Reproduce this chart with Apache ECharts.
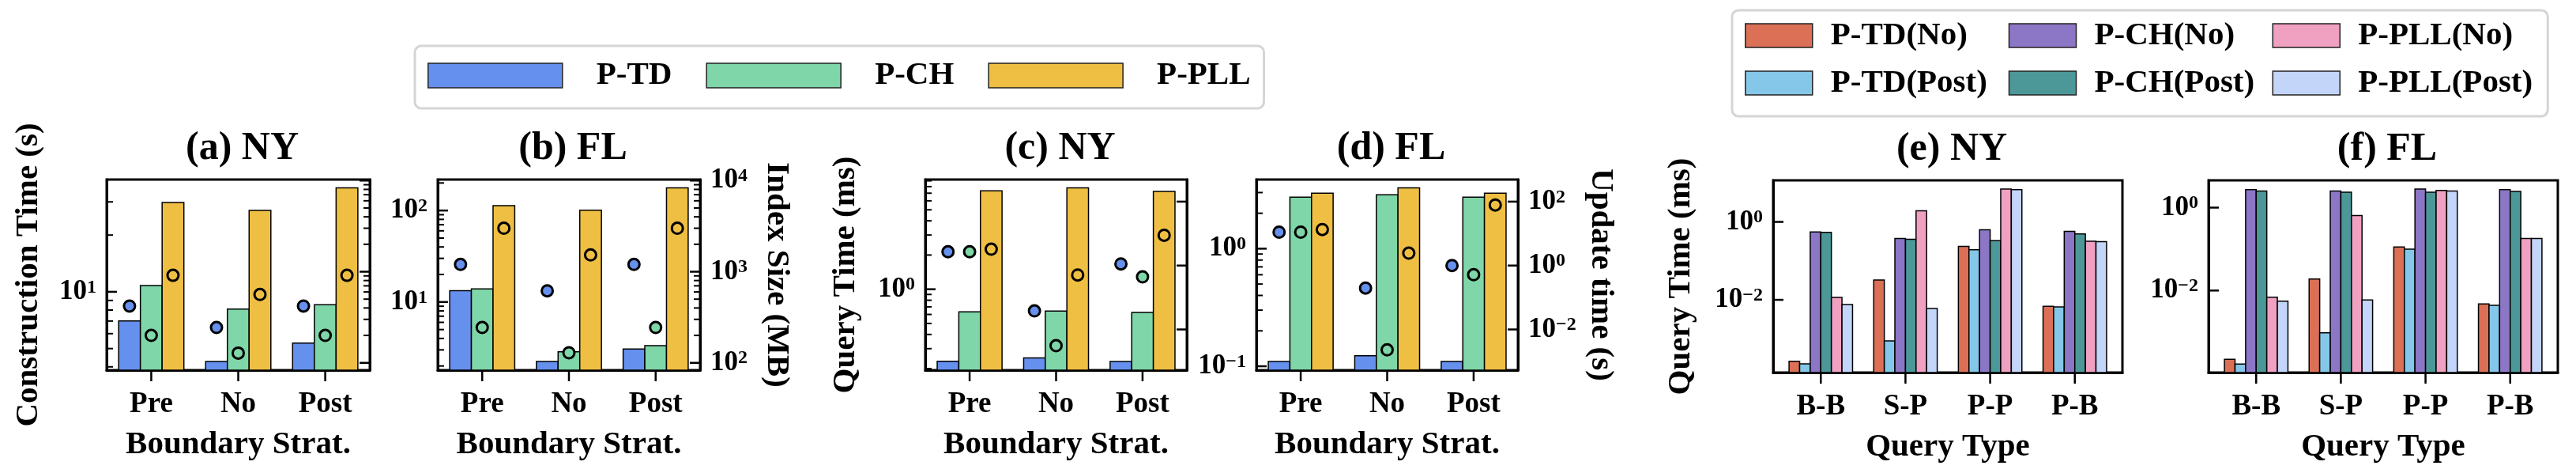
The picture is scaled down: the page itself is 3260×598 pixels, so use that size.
<!DOCTYPE html>
<html><head><meta charset="utf-8">
<script src="https://cdn.jsdelivr.net/npm/echarts@6/dist/echarts.min.js"></script>
<style>html,body{margin:0;padding:0;background:#fff}#c{width:3260px;height:598px}</style>
</head><body><div id="c"></div>
<script>
// ---------------- data ----------------
const strategies = ['Pre', 'No', 'Post'];
const queryTypes = ['B-B', 'S-P', 'P-P', 'P-B'];
const methods = ['P-TD', 'P-CH', 'P-PLL'];
const variants = ['P-TD(No)', 'P-TD(Post)', 'P-CH(No)', 'P-CH(Post)', 'P-PLL(No)', 'P-PLL(Post)'];
const titles = ['(a) NY', '(b) FL', '(c) NY', '(d) FL', '(e) NY', '(f) FL'];

// (a) NY: construction time (s) bars, index size (MB) circles
const nyBuildTD = [7.0, 4.27, 5.35];
const nyBuildCH = [10.8, 8.1, 8.55];
const nyBuildPLL = [29.8, 27.0, 35.6];
const nySizeTD = [420, 244, 420];
const nySizeCH = [200, 128, 200];
const nySizePLL = [912, 562, 912];
// (b) FL
const flBuildTD = [13.3, 2.24, 3.06];
const flBuildCH = [13.9, 2.86, 3.34];
const flBuildPLL = [113, 101, 177];
const flSizeTD = [1202, 617, 1202];
const flSizeCH = [244, 129, 244];
const flSizePLL = [3000, 1528, 3000];
// (c) NY: query time (ms) bars, update time (s) circles
const nyQueryTD = [0.232, 0.249, 0.231];
const nyQueryCH = [0.633, 0.643, 0.626];
const nyQueryPLL = [7.34, 7.79, 7.26];
const nyUpdTD = [2.69, 0.038, 1.12];
const nyUpdCH = [2.69, 0.0031, 0.443];
const nyUpdPLL = [3.24, 0.506, 8.87];
// (d) FL
const flQueryTD = [0.11, 0.123, 0.11];
const flQueryCH = [2.74, 2.87, 2.74];
const flQueryPLL = [2.96, 3.29, 2.96];
const flUpdTD = [11.1, 0.197, 1.0];
const flUpdCH = [11.1, 0.0023, 0.517];
const flUpdPLL = [13.4, 2.44, 78.3];
// (e) NY query time by query type (ms)
const nyTDNo = [2.65e-4, 0.0324, 0.234, 0.0068];
const nyTDPost = [2.27e-4, 8.8e-4, 0.192, 0.0066];
const nyCHNo = [0.554, 0.374, 0.626, 0.57];
const nyCHPost = [0.537, 0.357, 0.331, 0.489];
const nyPLLNo = [0.01156, 1.93, 6.94, 0.32];
const nyPLLPost = [0.0076, 0.006, 6.71, 0.31];
// (f) FL
const flTDNo = [2.2e-4, 0.019, 0.112, 0.00473];
const flTDPost = [1.69e-4, 9.5e-4, 0.1, 0.0044];
const flCHNo = [2.72, 2.52, 2.8, 2.72];
const flCHPost = [2.52, 2.35, 2.35, 2.45];
const flPLLNo = [0.0069, 0.644, 2.6, 0.18];
const flPLLPost = [0.00554, 0.0059, 2.52, 0.18];

// tick values (log axes)
const ticksBuildNY = [10];
const minorBuildNY = [4, 5, 6, 7, 8, 9, 20, 30];
const ticksBuildFL = [10, 100];
const minorBuildFL = [2, 3, 4, 5, 6, 7, 8, 9, 20, 30, 40, 50, 60, 70, 80, 90, 200];
const ticksSize = [100, 1000, 10000];
const minorSize = [200, 300, 400, 500, 600, 700, 800, 900, 2000, 3000, 4000, 5000, 6000, 7000, 8000, 9000];
const ticksQueryNY = [1];
const minorQueryNY = [0.2, 0.3, 0.4, 0.5, 0.6, 0.7, 0.8, 0.9, 2, 3, 4, 5, 6, 7, 8, 9];
const ticksQueryFL = [0.1, 1];
const minorQueryFL = [0.2, 0.3, 0.4, 0.5, 0.6, 0.7, 0.8, 0.9, 2, 3];
const ticksUpdate = [0.01, 1, 100];
const ticksQT = [0.01, 1];

// ---------------- style ----------------
const FONT = 'Liberation Serif';
const COL3 = {'P-TD': '#6690ee', 'P-CH': '#7fd6a8', 'P-PLL': '#efbf44'};
const COL6 = {'P-TD(No)': '#db7057', 'P-TD(Post)': '#85c7e8', 'P-CH(No)': '#8c76c6',
              'P-CH(Post)': '#4c9898', 'P-PLL(No)': '#f0a0c0', 'P-PLL(Post)': '#c3d5f8'};

const option = {animation: false, backgroundColor: '#fff',
  textStyle: {fontFamily: FONT, fontWeight: 'bold', color: '#000'},
  title: [], grid: [], xAxis: [], yAxis: [], legend: [], series: []};

function supLabel(v) {
  const e = Math.round(Math.log10(v));
  return '{b|10}{s|' + (e < 0 ? '\u2212' + (-e) : String(e)) + '}';
}
const richLab = {
  b: {fontFamily: FONT, fontWeight: 'bold', fontSize: 35, lineHeight: 35, color: '#000', padding: [12, 0, 0, 0], verticalAlign: 'bottom'},
  s: {fontFamily: FONT, fontWeight: 'bold', fontSize: 24, lineHeight: 24, color: '#000', verticalAlign: 'top'}
};
const nameStyle = {fontFamily: FONT, fontWeight: 'bold', fontSize: 41, color: '#000'};
const blackLine = {show: true, onZero: false, lineStyle: {color: '#000', width: 3}};

function addGrid(left, top, width, height, title) {
  option.grid.push({left, top, width, height, show: true, borderColor: '#000', borderWidth: 3,
    backgroundColor: 'rgba(0,0,0,0)', containLabel: false, outerBoundsMode: 'none'});
  option.title.push({text: title, left: left + width / 2, top: top - 69, textAlign: 'center',
    textStyle: {fontFamily: FONT, fontWeight: 'bold', fontSize: 50, color: '#000'}});
  return option.grid.length - 1;
}
function addX(gi, cats, xmin, xmax, name) {
  const idx = cats.map((c, i) => i);
  option.xAxis.push({type: 'value', gridIndex: gi, min: xmin, max: xmax, position: 'bottom',
    axisLine: blackLine, splitLine: {show: false}, axisTick: {show: false},
    axisLabel: {show: true, customValues: idx, formatter: v => cats[Math.round(v)], fontFamily: FONT, fontWeight: 'bold', fontSize: 37, color: '#000', margin: 25},
    name, nameLocation: 'middle', nameGap: 74, nameTextStyle: nameStyle});
  return option.xAxis.length - 1;
}
function addY(gi, min, max, position, majors, showLabels, name, nameGap) {
  const ax = {type: 'log', logBase: 10, gridIndex: gi, min, max, position,
    axisLine: blackLine, splitLine: {show: false}, axisTick: {show: false}, minorTick: {show: false}, minorSplitLine: {show: false},
    axisLabel: {show: showLabels, customValues: majors, formatter: supLabel, rich: richLab, margin: 13, fontFamily: FONT, fontWeight: 'bold', color: '#000'}};
  if (name) Object.assign(ax, {name, nameLocation: 'middle', nameGap, nameRotate: position === 'left' ? 90 : -90, nameTextStyle: nameStyle});
  option.yAxis.push(ax);
  return option.yAxis.length - 1;
}
// tick marks drawn through the axis scales (inward on y, outward on x)
function yTickSeries(xi, yi, values, side, len, lw) {
  return {type: 'custom', name: 'yticks', xAxisIndex: xi, yAxisIndex: yi, z: 6, silent: true, clip: false,
    encode: {x: 0, y: 1}, data: values.map(v => [0, v]),
    renderItem: (params, api) => {
      const p = api.coord([0, api.value(1)]);
      const cs = params.coordSys;
      const x0 = side === 'left' ? cs.x : cs.x + cs.width;
      const x1 = side === 'left' ? x0 + len : x0 - len;
      return {type: 'line', shape: {x1: x0, y1: p[1], x2: x1, y2: p[1]}, style: {stroke: '#000', lineWidth: lw, fill: null}};
    }};
}
function xTickSeries(xi, yi, n) {
  return {type: 'custom', name: 'xticks', xAxisIndex: xi, yAxisIndex: yi, z: 6, silent: true, clip: false,
    encode: {x: 0}, data: Array.from({length: n}, (d, i) => [i]),
    renderItem: (params, api) => {
      const p = api.coord([api.value(0), 1]);
      const cs = params.coordSys;
      const y0 = cs.y + cs.height;
      return {type: 'line', shape: {x1: p[0], y1: y0, x2: p[0], y2: y0 + 14}, style: {stroke: '#000', lineWidth: 2.5, fill: null}};
    }};
}
function inRange(vals, ax) { return vals.filter(v => v >= ax.min && v <= ax.max); }
function barSeries(name, xi, yi, values, slot, nSlots, w, color) {
  return {type: 'custom', name, xAxisIndex: xi, yAxisIndex: yi, z: 2, clip: true,
    itemStyle: {color, borderColor: '#000', borderWidth: 1.5},
    encode: {x: 0, y: 1},
    data: values.map((v, i) => [i, v]),
    renderItem: (params, api) => {
      const c = api.value(0) + (slot - (nSlots - 1) / 2) * w;
      const p0 = api.coord([c - w / 2, api.value(1)]);
      const p1 = api.coord([c + w / 2, api.value(1)]);
      const cs = params.coordSys;
      const yb = cs.y + cs.height;
      return {type: 'rect', shape: {x: p0[0], y: p0[1], width: p1[0] - p0[0], height: yb - p0[1]}, style: api.style()};
    }};
}
function dotSeries(name, xi, yi, values, slot, w, color) {
  return {type: 'scatter', name, xAxisIndex: xi, yAxisIndex: yi, symbol: 'circle', symbolSize: 14, z: 5, silent: true,
    itemStyle: {color, borderColor: '#000', borderWidth: 3, opacity: 1},
    data: values.map((v, i) => [i + (slot - 1) * w, v])};
}

// ---------------- panels a-d ----------------
const W3 = 0.25;
function panel3(left, width, title, yL, yR, bars, dots, leftName, leftGap, rightName, rightGap, showRightLabels) {
  const gi = addGrid(left, 227, width, 241, title);
  const xi = addX(gi, strategies, -0.5125, 2.5125, 'Boundary Strat.');
  const yl = addY(gi, yL.min, yL.max, 'left', yL.ticks, true, leftName, leftGap);
  const yr = addY(gi, yR.min, yR.max, 'right', yR.ticks, showRightLabels, rightName, rightGap);
  methods.forEach((m, k) => option.series.push(barSeries(m, xi, yl, bars[k], k, 3, W3, COL3[m])));
  methods.forEach((m, k) => option.series.push(dotSeries(m + ' aux', xi, yr, dots[k], k, W3, COL3[m])));
  option.series.push(yTickSeries(xi, yl, inRange(yL.ticks, yL), 'left', 13, 2.5));
  option.series.push(yTickSeries(xi, yl, inRange(yL.minor, yL), 'left', 8, 2));
  option.series.push(yTickSeries(xi, yr, inRange(yR.ticks, yR), 'right', 13, 2.5));
  if (yR.minor.length) option.series.push(yTickSeries(xi, yr, inRange(yR.minor, yR), 'right', 8, 2));
  option.series.push(xTickSeries(xi, yl, strategies.length));
}
const sizeAxis = {min: 83.1, max: 10260, ticks: ticksSize, minor: minorSize};
const updAxis = {min: 5.32e-4, max: 491, ticks: ticksUpdate, minor: []};
panel3(135, 333, titles[0], {min: 3.84, max: 39.4, ticks: ticksBuildNY, minor: minorBuildNY}, sizeAxis,
  [nyBuildTD, nyBuildCH, nyBuildPLL], [nySizeTD, nySizeCH, nySizePLL], 'Construction Time (s)', 78, null, 0, false);
panel3(554, 332, titles[1], {min: 1.80, max: 218, ticks: ticksBuildFL, minor: minorBuildFL}, sizeAxis,
  [flBuildTD, flBuildCH, flBuildPLL], [flSizeTD, flSizeCH, flSizePLL], null, 0, 'Index Size (MB)', 76, true);
panel3(1171, 331, titles[2], {min: 0.194, max: 9.23, ticks: ticksQueryNY, minor: minorQueryNY}, updAxis,
  [nyQueryTD, nyQueryCH, nyQueryPLL], [nyUpdTD, nyUpdCH, nyUpdPLL], 'Query Time (ms)', 80, null, 0, false);
panel3(1590, 331, titles[3], {min: 0.0926, max: 3.87, ticks: ticksQueryFL, minor: minorQueryFL}, updAxis,
  [flQueryTD, flQueryCH, flQueryPLL], [flUpdTD, flUpdCH, flUpdPLL], null, 0, 'Update time (s)', 84, true);

// ---------------- panels e-f ----------------
const W6 = 0.125;
function panel6(left, title, yAx, sets, leftName, leftGap) {
  const gi = addGrid(left, 228, 442, 243, title);
  const xi = addX(gi, queryTypes, -0.5625, 3.5625, 'Query Type');
  const yl = addY(gi, yAx.min, yAx.max, 'left', yAx.ticks, true, leftName, leftGap);
  variants.forEach((v, k) => option.series.push(barSeries(v, xi, yl, sets[k], k, 6, W6, COL6[v])));
  option.series.push(yTickSeries(xi, yl, inRange(yAx.ticks, yAx), 'left', 13, 2.5));
  option.series.push(xTickSeries(xi, yl, queryTypes.length));
}
panel6(2244, titles[4], {min: 1.36e-4, max: 11.65, ticks: ticksQT},
  [nyTDNo, nyTDPost, nyCHNo, nyCHPost, nyPLLNo, nyPLLPost], 'Query Time (ms)', 96);
panel6(2795, titles[5], {min: 1.05e-4, max: 4.55, ticks: ticksQT},
  [flTDNo, flTDPost, flCHNo, flCHPost, flPLLNo, flPLLPost], null, 0);

// ---------------- legends ----------------
const legText = {fontFamily: FONT, fontWeight: 'bold', fontSize: 41, color: '#000'};
option.legend.push({data: methods, left: 525, top: 58, orient: 'horizontal', icon: 'rect', selectedMode: false,
  itemWidth: 170, itemHeight: 31, itemGap: 43, padding: [16.5, 17, 20.5, 16],
  backgroundColor: '#fff', borderColor: '#d5d5d5', borderWidth: 3, borderRadius: 8,
  itemStyle: {borderColor: '#222', borderWidth: 1.5},
  textStyle: Object.assign({}, legText, {lineHeight: 42, padding: [0, 0, 0, 38]})});
option.legend.push({data: ['P-TD(No)', 'P-CH(No)', 'P-PLL(No)', 'P-TD(Post)', 'P-CH(Post)', 'P-PLL(Post)'],
  left: 2192, top: 13, width: 1100, orient: 'horizontal', icon: 'rect', selectedMode: false,
  itemWidth: 85, itemHeight: 30, itemGap: 3, padding: [3.5, 18, 13.5, 16],
  backgroundColor: '#fff', borderColor: '#d5d5d5', borderWidth: 3, borderRadius: 8,
  itemStyle: {borderColor: '#222', borderWidth: 1.5},
  textStyle: Object.assign({}, legText, {lineHeight: 57, width: 222, padding: [0, 0, 0, 18]})});

const chart = echarts.init(document.getElementById('c'), null, {renderer: 'canvas'});
chart.setOption(option);
</script></body></html>
